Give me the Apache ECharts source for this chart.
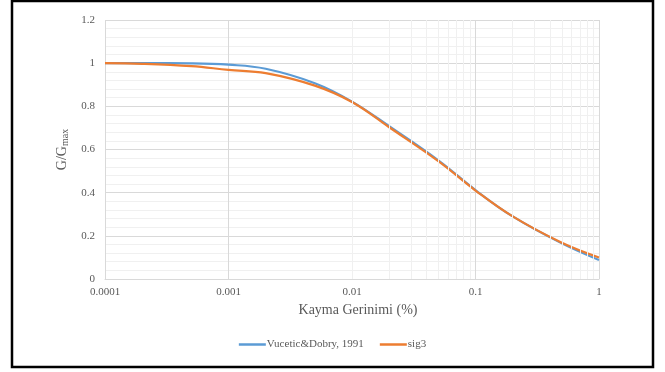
<!DOCTYPE html>
<html>
<head>
<meta charset="utf-8">
<script src="https://cdn.jsdelivr.net/npm/echarts@6/dist/echarts.min.js"></script>
<style>
  html, body { margin: 0; padding: 0; background: #fff; }
  #chart { width: 665px; height: 372px; }
</style>
</head>
<body>
<div id="chart"></div>
<script>
const strain = [0.0001, 0.0002, 0.0005, 0.001, 0.002, 0.005, 0.01, 0.02, 0.05, 0.1, 0.2, 0.5, 1];
const vuceticDobry = [1.0, 1.0, 0.999, 0.993, 0.974, 0.907, 0.822, 0.708, 0.55, 0.412, 0.29, 0.165, 0.088];
const sig3 = [1.0, 0.997, 0.986, 0.969, 0.954, 0.896, 0.82, 0.703, 0.546, 0.41, 0.29, 0.168, 0.1];
const yTicks = [0, 0.2, 0.4, 0.6, 0.8, 1, 1.2];
const decades = [0.0001, 0.001, 0.01, 0.1];

// log-axis minor gridlines at 2..9 within each decade
const minorLines = [];
decades.forEach((d) => {
  for (let k = 2; k <= 9; k++) minorLines.push({ xAxis: +(d * k).toPrecision(3) });
});

const chart = echarts.init(document.getElementById("chart"));
const font = "'Liberation Serif', 'Times New Roman', serif";
const gray = "#595959";

chart.setOption({
  animation: false,
  textStyle: { fontFamily: font },
  graphic: [
    {
      type: "rect",
      shape: { x: 12, y: 1, width: 641, height: 366 },
      style: { fill: "none", stroke: "#000", lineWidth: 2.5 },
      silent: true,
    },
  ],
  grid: { left: 105, right: 66, top: 20, bottom: 93 },
  legend: {
    data: ["Vucetic&Dobry, 1991", "sig3"],
    left: "center",
    top: 334,
    icon: "rect",
    itemWidth: 27,
    itemHeight: 2.5,
    itemGap: 16,
    textStyle: { color: gray, fontSize: 11, fontFamily: font, padding: [0, 0, 0, -4] },
  },
  xAxis: {
    type: "log",
    logBase: 10,
    min: 0.0001,
    max: 1,
    name: "Kayma Gerinimi (%)",
    nameLocation: "middle",
    nameGap: 24,
    nameTextStyle: { color: gray, fontSize: 14, fontFamily: font, padding: [0, 0, 0, 12] },
    axisLine: { lineStyle: { color: "#d9d9d9" } },
    axisTick: { show: false },
    axisLabel: {
      color: gray,
      fontSize: 11,
      margin: 8,
      formatter: (v) => String(+v.toPrecision(1)),
    },
    splitLine: { show: true, lineStyle: { color: "#d9d9d9" } },
  },
  yAxis: {
    type: "value",
    min: 0,
    max: 1.2,
    interval: 0.2,
    name: "{a|G/G}{b|max}",
    nameLocation: "middle",
    nameGap: 30,
    nameTextStyle: {
      color: gray,
      rich: {
        a: { fontSize: 14, color: gray, fontFamily: font },
        b: { fontSize: 10, color: gray, fontFamily: font, padding: [6, 0, 0, 0] },
      },
    },
    axisLine: { show: false },
    axisTick: { show: false },
    axisLabel: {
      color: gray,
      fontSize: 11,
      margin: 10,
      formatter: (v) => String(yTicks.find((t) => Math.abs(t - v) < 1e-9) ?? v),
    },
    splitLine: { lineStyle: { color: "#d9d9d9" } },
    minorTick: { show: false, splitNumber: 5 },
    minorSplitLine: { show: true, lineStyle: { color: "#f0f0f0" } },
  },
  series: [
    {
      name: "minor",
      type: "line",
      data: [],
      z: 1,
      silent: true,
      markLine: {
        silent: true,
        symbol: "none",
        label: { show: false },
        lineStyle: { color: "#f0f0f0", width: 1, type: "solid" },
        data: minorLines,
      },
    },
    {
      name: "Vucetic&Dobry, 1991",
      type: "line",
      data: strain.map((s, i) => [s, vuceticDobry[i]]),
      smooth: 0.4,
      showSymbol: false,
      itemStyle: { color: "#5B9BD5" },
      lineStyle: { color: "#5B9BD5", width: 2.2 },
    },
    {
      name: "sig3",
      type: "line",
      data: strain.map((s, i) => [s, sig3[i]]),
      smooth: 0.4,
      showSymbol: false,
      itemStyle: { color: "#ED7D31" },
      lineStyle: { color: "#ED7D31", width: 2.2 },
    },
  ],
});
</script>
</body>
</html>
